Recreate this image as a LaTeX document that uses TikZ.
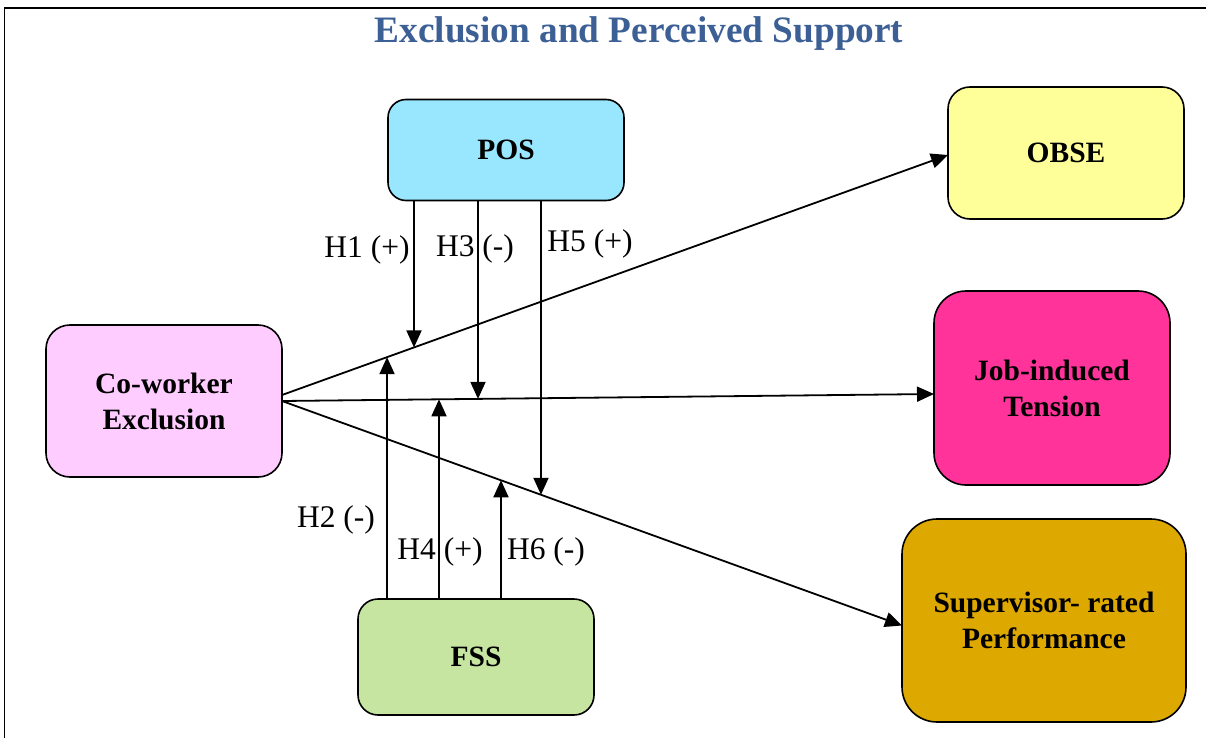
\documentclass[tikz,border=0pt]{standalone}
\usepackage{fontspec}
\setmainfont{Liberation Serif}
\usetikzlibrary{arrows.meta,calc}
\definecolor{titleblue}{HTML}{3C6095}
\definecolor{poscol}{HTML}{99E6FF}
\definecolor{obsecol}{HTML}{FFFF99}
\definecolor{cwecol}{HTML}{FFCCFF}
\definecolor{jobcol}{HTML}{FF3399}
\definecolor{fsscol}{HTML}{C6E5A0}
\definecolor{supcol}{HTML}{DDA800}
\begin{document}
\begin{tikzpicture}[x=1pt,y=-1pt,
  mybox/.style={draw, line width=1.6pt, rounded corners=#1, align=center,
    inner sep=0pt, outer sep=0pt,
    font=\fontsize{29.5}{36}\selectfont\bfseries},
  conn/.style={line width=1.8pt, -{Triangle[length=17pt,width=15pt]}},
  hlabel/.style={font=\fontsize{31.5}{35}\selectfont, inner sep=0pt}]
\useasboundingbox (0,0) rectangle (1206,738);
\draw[line width=1.5pt] (4.5,8) rectangle (1220,760);
\node[font=\fontsize{37.3}{40}\selectfont\bfseries, text=titleblue] (title) at (639,34) {Exclusion and Perceived Support};

\node[mybox=18pt, fill=poscol, minimum width=236pt, minimum height=101pt] (pos) at (506,150) {POS};
\node[mybox=22pt, fill=obsecol, minimum width=236pt, minimum height=132pt] (obse) at (1066,153) {OBSE};
\node[mybox=24pt, fill=cwecol, minimum width=236pt, minimum height=152pt] (cwe) at (164,401) {Co-worker\\Exclusion};
\node[mybox=32pt, fill=jobcol, minimum width=236pt, minimum height=194pt] (job) at (1052,388) {Job-induced\\Tension};
\node[mybox=20pt, fill=fsscol, minimum width=236pt, minimum height=116pt] (fss) at (476,657) {FSS};
\node[mybox=35pt, fill=supcol, minimum width=284pt, minimum height=203pt] (sup) at (1044,620.5) {Supervisor- rated\\Performance};

\coordinate (eo) at ([yshift=6pt]cwe.east);
\coordinate (ej) at (cwe.east);
\coordinate (es) at (cwe.east);
\coordinate (to) at ([yshift=-2pt]obse.west);
\coordinate (tj) at ([yshift=-6pt]job.west);
\coordinate (ts) at ([yshift=-5pt]sup.west);

\draw[conn] (eo) -- (to);
\draw[conn] (ej) -- (tj);
\draw[conn] (es) -- (ts);

% tips on the lines
\coordinate (t1) at ($(eo)!0.1982!(to)$);
\coordinate (t2) at ($(eo)!0.1577!(to)$);
\coordinate (t3) at ($(ej)!0.3006!(tj)$);
\coordinate (t4) at ($(ej)!0.2408!(tj)$);
\coordinate (t5) at ($(es)!0.4177!(ts)$);
\coordinate (t6) at ($(es)!0.3532!(ts)$);

\draw[conn] (pos.south -| t1) -- (t1);
\draw[conn] (pos.south -| t3) -- (t3);
\draw[conn] (pos.south -| t5) -- (t5);
\draw[conn] (fss.north -| t2) -- (t2);
\draw[conn] (fss.north -| t4) -- (t4);
\draw[conn] (fss.north -| t6) -- (t6);

\node[hlabel] (l1) at (367,250) {H1 (+)};
\node[hlabel] (l3) at (475,249) {H3 (-)};
\node[hlabel] (l5) at (590,244) {H5 (+)};
\node[hlabel] (l2) at (336,520) {H2 (-)};
\node[hlabel] (l4) at (440,552) {H4 (+)};
\node[hlabel] (l6) at (546,552) {H6 (-)};
\end{tikzpicture}
\end{document}
